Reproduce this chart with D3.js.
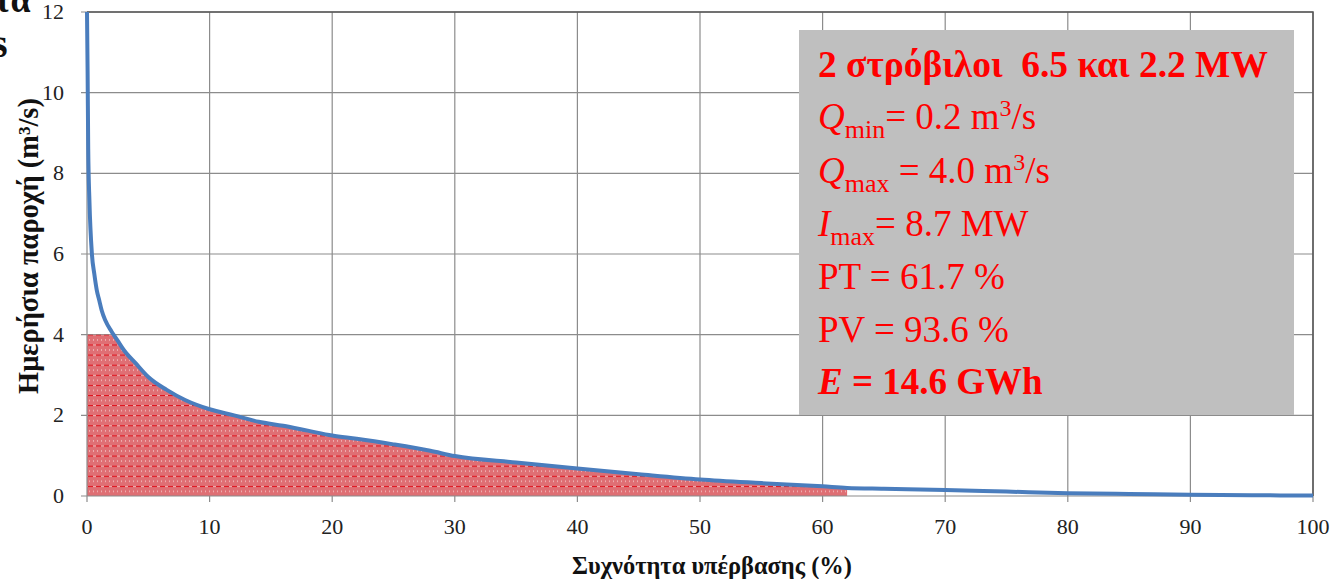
<!DOCTYPE html>
<html><head><meta charset="utf-8">
<script src="https://cdn.jsdelivr.net/npm/d3@7"></script>
<style>html,body{margin:0;padding:0;background:#fff;overflow:hidden}</style>
</head><body>
<script>
// ---- data ----
const exceedance = [0,0.05,0.1,0.2,0.4,0.6,0.8,1,1.2,1.5,2,2.5,3,4,5,6.5,8,10,12,14,16,18,20,22,25,28,30,35,40,45,50,55,60,62,65,70,75,80,85,90,95,100];
const flow       = [12,10.5,8.6,7.3,6.0,5.5,5.1,4.85,4.6,4.35,4.08,3.85,3.62,3.28,2.95,2.63,2.38,2.15,2.0,1.84,1.74,1.62,1.5,1.42,1.28,1.12,0.99,0.83,0.68,0.54,0.41,0.32,0.24,0.2,0.18,0.15,0.11,0.07,0.05,0.03,0.02,0.01];
const qMax = 4.0;          // turbine capacity limit (m3/s)
const ptLimit = 62;        // exceedance limit of turbined region (%)
const xTicks = [0,10,20,30,40,50,60,70,80,90,100];
const yTicks = [0,2,4,6,8,10,12];
const xLabel = "Συχνότητα υπέρβασης (%)";
const yLabel = "Ημερήσια παροχή (m³/s)";

const W = 1344, H = 579;
const m = {left:87, right:1313, top:12, bottom:496};
const svg = d3.select("body").append("svg").attr("width",W).attr("height",H)
  .style("font-family","'Liberation Serif','Times New Roman',serif");

const x = d3.scaleLinear().domain([0,100]).range([m.left,m.right]);
const y = d3.scaleLinear().domain([0,12]).range([m.bottom,m.top]);

function fit(sel, target){
  const n = sel.node(); const fs = parseFloat(sel.attr("font-size"));
  const w = n.getComputedTextLength();
  if (w>0) sel.attr("font-size", fs*target/w);
}

// pattern
const defs = svg.append("defs");
const pat = defs.append("pattern").attr("id","hatch").attr("patternUnits","userSpaceOnUse")
  .attr("width",8).attr("height",10.1).attr("y",m.bottom);
pat.append("rect").attr("width",8).attr("height",10.1).attr("fill","#df6f74");
pat.append("line").attr("x1",0).attr("x2",5).attr("y1",0.5).attr("y2",0.5).attr("stroke","#e0101a").attr("stroke-width",1);
pat.append("line").attr("x1",5).attr("x2",8).attr("y1",0.5).attr("y2",0.5).attr("stroke","#f2b0b0").attr("stroke-width",1);
pat.append("rect").attr("x",1).attr("y",5).attr("width",1).attr("height",1).attr("fill","#fbe0e0");
pat.append("rect").attr("x",5).attr("y",5).attr("width",1).attr("height",1).attr("fill","#fbe0e0");

// gridlines
const grid = svg.append("g");
grid.selectAll(".vx").data(xTicks.slice(1)).join("line")
  .attr("x1",d=>x(d)).attr("x2",d=>x(d)).attr("y1",m.top).attr("y2",m.bottom+6)
  .attr("stroke","#8c8c8c").attr("stroke-width",1.2);
grid.selectAll(".hy").data(yTicks.slice(1)).join("line")
  .attr("x1",m.left-6).attr("x2",m.right).attr("y1",d=>y(d)).attr("y2",d=>y(d))
  .attr("stroke","#8c8c8c").attr("stroke-width",1.2);
svg.append("path").attr("d",`M${m.left},${m.top}H${m.right}V${m.bottom}`)
  .attr("fill","none").attr("stroke","#555").attr("stroke-width",1.5);

// area
const pts = exceedance.map((e,i)=>({e,q:flow[i]}));
const areaPts = pts.filter(p=>p.e<=ptLimit).map(p=>({e:p.e,q:Math.min(p.q,qMax)}));
svg.append("path").datum(areaPts)
  .attr("d",d3.area().x(d=>x(d.e)).y0(y(0)).y1(d=>y(d.q)))
  .attr("fill","url(#hatch)");

// axes lines
svg.append("line").attr("x1",m.left).attr("x2",m.left).attr("y1",m.top).attr("y2",m.bottom+6)
  .attr("stroke","#8c8c8c").attr("stroke-width",1.2);
svg.append("line").attr("x1",m.left-6).attr("x2",m.right).attr("y1",m.bottom).attr("y2",m.bottom)
  .attr("stroke","#8c8c8c").attr("stroke-width",1.2);

// curve
svg.append("path").datum(pts)
  .attr("d",d3.line().x(d=>x(d.e)).y(d=>y(d.q)).curve(d3.curveMonotoneX))
  .attr("fill","none").attr("stroke","#4a7dbd").attr("stroke-width",4);

// tick labels
svg.selectAll(".xt").data(xTicks).join("text")
  .attr("x",d=>x(d)).attr("y",534).attr("text-anchor","middle")
  .attr("font-size",22).attr("fill","#222").text(d=>d);
svg.selectAll(".yt").data(yTicks).join("text")
  .attr("x",64).attr("y",d=>y(d)+7).attr("text-anchor","end")
  .attr("font-size",22).attr("fill","#222").text(d=>d);

// axis titles
const xl = svg.append("text").attr("x",712).attr("y",574).attr("text-anchor","middle")
  .attr("font-size",20).attr("font-weight","bold").attr("fill","#111").text(xLabel);
fit(xl, 280);
const yl = svg.append("text").attr("transform","translate(38,246) rotate(-90)").attr("text-anchor","middle")
  .attr("font-size",20).attr("font-weight","bold").attr("fill","#111").text(yLabel);
fit(yl, 296);

// cropped text at top-left
svg.append("text").attr("x",-6).attr("y",12).attr("font-size",36).attr("font-weight","bold").attr("fill","#111").text("τα");
svg.append("text").attr("x",-8).attr("y",57).attr("font-size",40).attr("font-weight","bold").attr("fill","#111").text("s");

// info box
svg.append("rect").attr("x",799).attr("y",30).attr("width",495).attr("height",385).attr("fill","#bfbfbf");
const tx = 818, red = "#ff0000", fs = 37;
const t = svg.append("g").attr("fill",red).attr("font-size",fs);
const l1 = t.append("text").attr("x",tx).attr("y",77).attr("font-weight","bold").attr("font-size",fs).attr("xml:space","preserve")
  .text("2 στρόβιλοι  6.5 και 2.2 MW");
fit(l1, 450);
function subLine(yb, main, sub, rest, unit3){
  const el = t.append("text").attr("x",tx).attr("y",yb).attr("xml:space","preserve");
  el.append("tspan").attr("font-style","italic").text(main);
  el.append("tspan").attr("font-size",26).attr("dy",9).text(sub);
  el.append("tspan").attr("dy",-9).text(rest);
  if (unit3){
    el.append("tspan").attr("font-size",24).attr("dy",-13).text("3");
    el.append("tspan").attr("dy",13).text("/s");
  }
}
subLine(129,"Q","min","= 0.2 m",true);
subLine(183,"Q","max"," = 4.0 m",true);
subLine(236,"I","max","= 8.7 MW",false);
t.append("text").attr("x",tx).attr("y",289).text("PT = 61.7 %");
t.append("text").attr("x",tx).attr("y",342).text("PV = 93.6 %");
const e = t.append("text").attr("x",tx).attr("y",394).attr("font-weight","bold");
e.append("tspan").attr("font-style","italic").text("E");
e.append("tspan").text(" = 14.6 GWh");
</script>
</body></html>
